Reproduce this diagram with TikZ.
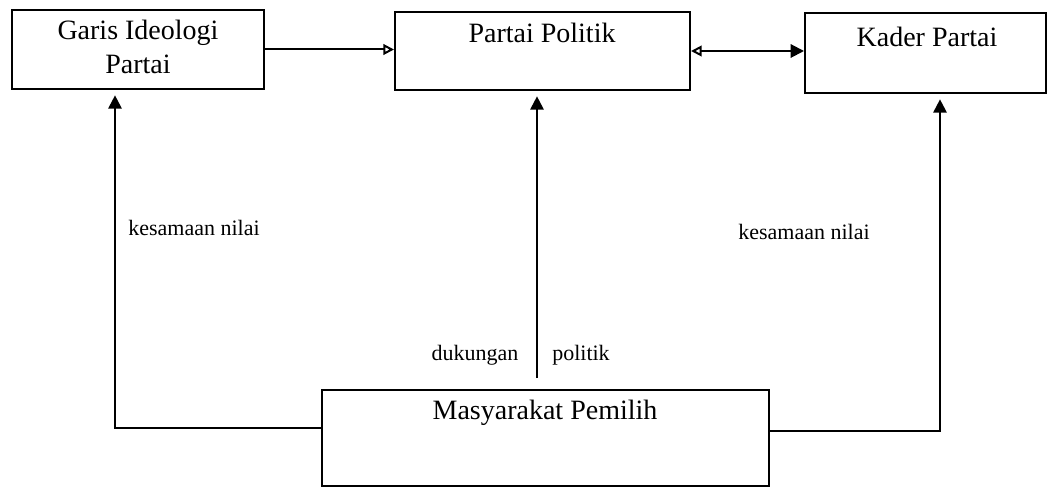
\documentclass[tikz,border=0pt]{standalone}
\usepackage{fontspec}
\setmainfont{Liberation Serif}
\usetikzlibrary{arrows.meta,positioning}

\begin{document}
\begin{tikzpicture}[x=0.75pt, y=-0.75pt,
  box/.style={draw, line width=1.5pt, inner sep=0pt},
  title/.style={font=\fontsize{21}{26}\selectfont, align=center},
  lbl/.style={font=\fontsize{16.5}{18}\selectfont},
  conn/.style={line width=1.5pt},
  opentip/.style={-{Triangle[open, length=8pt, width=8pt]}},
  filltip/.style={-{Triangle[length=10pt, width=10pt]}, shorten >=4pt}]
  \useasboundingbox (0,0) rectangle (1049,488);
  \node[box, minimum width=189pt, minimum height=59.25pt] (A) at (138,49.5) {};
  \node[box, minimum width=221.25pt, minimum height=58.5pt] (B) at (542.5,51) {};
  \node[box, minimum width=180.75pt, minimum height=60pt] (C) at (925.5,53) {};
  \node[box, minimum width=335.25pt, minimum height=72pt] (D) at (545.5,438) {};
  \node[title] (tA) at (138,47) {Garis Ideologi\\Partai};
  \node[title] (tB) at (542,33) {Partai Politik};
  \node[title] (tC) at (927,37) {Kader Partai};
  \node[title] (tD) at (545,413) {Masyarakat Pemilih};
  \coordinate (L) at (115,428);
  \coordinate (M) at (537,378);
  \coordinate (R) at (940,431);
  \draw[conn, opentip] (A.east) -- (A.east -| B.west);
  \draw[conn, {Triangle[open, length=8pt, width=8pt]}-{Triangle[length=10pt, width=10pt]}] (B.east) -- (B.east -| C.west);
  \draw[conn, filltip] (D.west |- L) -- (L) -- (L |- A.south);
  \draw[conn, filltip] (M) -- (M |- B.south);
  \draw[conn, filltip] (D.east |- R) -- (R) -- (R |- C.south);
  \node[lbl] (kA) at (194,228) {kesamaan nilai};
  \node[lbl] (kC) at (804,232) {kesamaan nilai};
  \node[lbl] (dk) at (475,355) {dukungan};
  \node[lbl] (pl) at (581,355) {politik};
\end{tikzpicture}
\end{document}
